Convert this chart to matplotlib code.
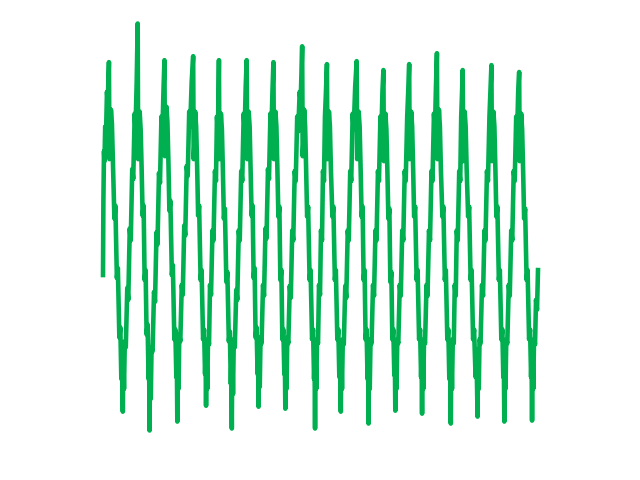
import numpy as np
import matplotlib.pyplot as plt

# sample time (samples) and signal amplitude
t = [0, 0.4, 1, 1.5, 2.2, 3, 4, 4.8, 6,
     6.5, 7.2, 8, 9, 10, 11.5, 12.5, 14, 15, 16.5, 17.5, 18.5, 19.3, 20,
     20.5, 21.2, 22, 23, 24.5, 25.5, 27, 28, 29.5, 30.5, 32, 32.8, 34, 35,
     35.5, 36.2, 37, 38, 39, 40, 41, 42, 43, 44, 45, 46, 46.5, 47,
     47.5, 48.2, 49, 50, 51.5, 52.5, 54, 55, 56.5, 57.5, 59, 60, 61, 62,
     62.5, 63.2, 64, 65, 66, 67, 68, 69.5, 70.5, 72, 73, 74, 74.5, 75,
     75.5, 76.2, 77, 78, 79.5, 80.5, 82, 83, 84.5, 85.5, 87, 88, 89.5, 91,
     91.5, 92.2, 93, 94, 95, 96, 97, 98.5, 99.5, 101, 102, 103, 103.5, 104,
     104.5, 105.2, 106, 107, 108, 109, 110.5, 111.5, 113, 114, 115, 116, 116.5, 117,
     117.5, 118.2, 119, 120, 121, 122, 123, 124.5, 125.5, 127, 128, 129, 129.5, 130,
     130.5, 131.2, 132, 133, 134.5, 135.5, 137, 138, 139.5, 140.5, 142, 143, 144, 145,
     145.5, 146.2, 147, 148, 149, 150, 151, 152, 153, 154, 155, 156, 156.5, 157,
     157.5, 158.2, 159, 160, 161.5, 162.5, 164, 165, 166.5, 167.5, 169, 170, 171, 172,
     172.5, 173.2, 174, 175, 176, 177, 178, 179, 180, 181, 182, 183, 183.5, 184,
     184.5, 185.2, 186, 187, 188.5, 189.5, 191, 192, 193.5, 194.5, 196, 197, 198.5, 199.5, 201,
     201.5, 202.2, 203, 204, 205, 206, 207, 208.5, 209.5, 211, 212, 213, 213.5, 214,
     214.5, 215.2, 216, 217, 218, 219, 220, 221, 222, 223, 224, 225, 226,
     226.5, 227.2, 228, 229, 230, 231.5, 232.5, 234, 235, 236.5, 237.5, 238.5, 239.3, 240,
     240.5, 241.2, 242, 243, 244.5, 245.5, 247, 248, 249.5, 250.5, 252, 253, 254.5, 256,
     256.5, 257.2, 258, 259, 260, 261, 262, 263, 264, 265, 266, 267, 267.5, 268,
     268.5, 269.2, 270, 271, 272.5, 273.5, 275, 276, 277.5, 278.5, 280, 281, 282, 283,
     283.5, 284.2, 285, 286, 287, 288, 289, 290, 291, 292, 293, 294, 294.5, 295,
     295.5, 296.2, 297, 298, 299.5, 300.5, 302, 303, 304.5, 305.5, 307, 308, 309,
     309.5, 310.2, 311, 312, 313, 314, 315, 316.5, 317.5, 319, 320, 321, 321.5, 322,
     322.5, 323.2, 324, 325, 326.5, 327.5, 329, 330, 331.5, 332.5, 334, 335, 336, 337,
     337.5, 338.2, 339, 340, 341, 342.5, 343.5, 345, 346, 347.5, 348.5, 349.5, 350.3, 351,
     351.5, 352.2, 353, 354, 355, 356, 357, 358, 359.5, 360.5, 361.5, 362.2, 363,
     363.5, 364.2, 365, 366, 367, 368.5, 369.5, 371, 372, 373.5, 374.5, 376, 377, 378,
     378.5, 379.2, 380, 381, 382.5, 383.5, 385, 386, 387.5, 388.5, 390, 391, 392,
     392.5, 393.2, 394, 395, 396, 397, 398, 399.5, 400.5, 402, 403, 404, 404.5, 405,
     405.5, 406.2, 407, 408, 409.5, 410.5, 412, 413, 414.5, 415.5, 417, 418, 419, 420,
     420.5, 421.2, 422, 423, 424, 425, 426, 427.5, 428.5, 430, 431, 432, 432.5, 433,
     433.5, 434.2, 435, 436, 437, 438, 439]

amp = [-35, 40, 90, 80, 115, 105, 150, 140, 180,
       82, 95, 132, 118, 78, 22, 35, -38, -28, -98, -88, -140, -125, -173,
       -118, -150, -102, -108, -48, -60, 12, 0, 72, 62, 128, 112, 160, 219,
       82, 100, 130, 112, 72, 25, 35, -40, -30, -95, -85, -140, -120, -192,
       -115, -160, -108, -112, -52, -62, 8, -4, 68, 58, 125, 110, 150, 182,
       85, 98, 135, 120, 80, 30, 40, -35, -25, -100, -90, -138, -120, -183,
       -110, -150, -95, -102, -45, -55, 15, 5, 75, 65, 130, 115, 160, 186,
       82, 96, 130, 115, 75, 25, 35, -40, -30, -100, -90, -135, -118, -167,
       -115, -150, -100, -105, -45, -55, 10, 0, 70, 60, 125, 110, 150, 182,
       82, 95, 128, 112, 70, 22, 32, -42, -32, -102, -92, -145, -125, -190,
       -110, -155, -100, -108, -50, -60, 10, 0, 70, 60, 128, 112, 155, 182,
       82, 98, 130, 115, 72, 25, 35, -38, -28, -98, -88, -135, -118, -168,
       -110, -148, -98, -104, -45, -56, 12, 2, 72, 62, 128, 112, 150, 180,
       82, 96, 130, 115, 72, 24, 34, -40, -30, -100, -90, -135, -118, -170,
       -115, -150, -98, -104, -46, -58, 10, 0, 70, 60, 125, 110, 150, 140, 196,
       85, 98, 132, 115, 72, 24, 34, -40, -30, -100, -90, -140, -122, -190,
       -115, -150, -100, -104, -45, -55, 10, 0, 70, 60, 125, 150, 178,
       82, 95, 130, 115, 72, 24, 34, -40, -30, -100, -90, -138, -120, -173,
       -112, -150, -100, -105, -46, -58, 10, 0, 70, 60, 128, 112, 155, 181,
       82, 96, 130, 115, 72, 24, 34, -40, -30, -100, -90, -140, -120, -185,
       -110, -150, -100, -104, -45, -56, 10, 0, 70, 60, 125, 110, 150, 172,
       80, 95, 128, 112, 70, 22, 32, -42, -32, -100, -90, -136, -118, -172,
       -114, -150, -100, -104, -45, -56, 10, 0, 70, 60, 125, 150, 178,
       82, 96, 130, 115, 72, 24, 34, -40, -30, -100, -90, -138, -120, -175,
       -110, -150, -100, -104, -45, -56, 10, 0, 70, 60, 128, 112, 155, 189,
       82, 96, 132, 115, 72, 24, 34, -40, -30, -100, -90, -140, -120, -185,
       -112, -150, -100, -104, -45, -56, 10, 0, 70, 60, 125, 145, 172,
       80, 95, 130, 115, 72, 24, 34, -40, -30, -100, -90, -138, -120, -178,
       -110, -150, -100, -104, -45, -56, 10, 0, 70, 60, 125, 150, 177,
       80, 96, 130, 115, 72, 24, 34, -40, -30, -100, -90, -138, -120, -183,
       -110, -150, -100, -104, -45, -56, 10, 0, 70, 60, 125, 110, 150, 170,
       80, 95, 128, 112, 70, 22, 32, -40, -30, -100, -90, -138, -120, -182,
       -115, -150, -100, -105, -60, -70, -30]

fig = plt.figure(figsize=(6.4, 4.8), dpi=100)
# axes box placed so the trace fills the same pixel area as the reference
ax = fig.add_axes([103 / 640, 49.5 / 480, 435 / 640, 407 / 480])
ax.plot(t, amp, color='#00b050', linewidth=3.3, clip_on=False)
ax.set_xlim(min(t), max(t))
ax.set_ylim(min(amp), max(amp))
ax.axis('off')

fig.savefig('out.png', dpi=100)
